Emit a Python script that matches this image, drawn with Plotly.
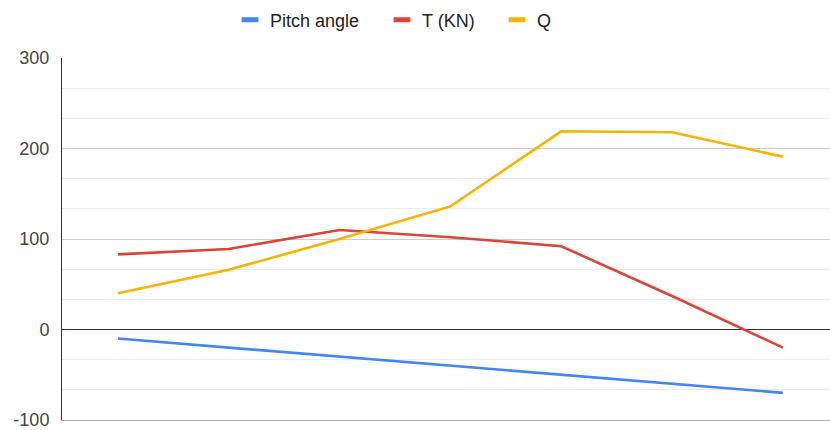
import plotly.graph_objects as go

# Seven consecutive steps along the x axis (no labels shown)
steps = [0, 1, 2, 3, 4, 5, 6]

# Series values
pitch_angle = [-10, -20, -30, -40, -50, -60, -70]
thrust_kn = [83, 89, 110, 102, 92, 37, -20]
q_values = [40, 66, 100, 136, 219, 218, 191]

# Y axis ticks and their labels (plain hyphen for the minus sign)
y_ticks = [-100, 0, 100, 200, 300]
y_tick_labels = ["-100", "0", "100", "200", "300"]

series = [
    ("Pitch angle", pitch_angle, "#4285F4", "legend", 230),
    ("T (KN)", thrust_kn, "#DB4437", "legend2", 382),
    ("Q", q_values, "#F4B400", "legend3", 497),
]

W, H = 830, 430
fig = go.Figure()

for name, vals, color, _, _ in series:
    fig.add_trace(go.Scatter(
        x=steps, y=vals, mode="lines", name=name,
        line=dict(color=color, width=2.6),
        showlegend=False, hoverinfo="x+y+name",
    ))

# Legend entries drawn as short thick bars
for name, vals, color, leg, _ in series:
    fig.add_trace(go.Scatter(
        x=[None], y=[None], mode="markers", name=name, legend=leg,
        marker=dict(symbol="line-ew", size=12, color=color,
                    line=dict(width=5, color=color)),
    ))

legend_font = dict(family="Liberation Sans, Arial, sans-serif", size=18, color="#222222")
legends = {}
for name, vals, color, leg, px in series:
    legends[leg] = dict(
        orientation="h", xref="container", yref="container",
        x=px / W, y=1 - 20 / H, xanchor="left", yanchor="middle",
        font=legend_font, bgcolor="rgba(0,0,0,0)", borderwidth=0,
    )

fig.update_layout(
    width=W, height=H,
    margin=dict(l=62, r=0, t=58, b=10),
    paper_bgcolor="white", plot_bgcolor="white",
    font=dict(family="Liberation Sans, Arial, sans-serif"),
    xaxis=dict(
        range=[-0.505, 6.426], showgrid=False, zeroline=False,
        showticklabels=False, ticks="", showline=True,
        linecolor="#b0b0b0", linewidth=1,
    ),
    yaxis=dict(
        range=[-100, 300], tickvals=y_ticks, ticktext=y_tick_labels,
        tickfont=dict(size=18, color="#444444"),
        ticks="", ticklabelstandoff=8, ticklabeloverflow="allow",
        showgrid=True, gridcolor="#cccccc", gridwidth=1,
        zeroline=True, zerolinecolor="#333333", zerolinewidth=1,
        showline=True, linecolor="#333333", linewidth=1,
        minor=dict(dtick=100 / 3, tick0=-100, showgrid=True,
                   gridcolor="#ebebeb", gridwidth=1, ticks=""),
    ),
    **legends,
)

fig.write_html("out.html")
